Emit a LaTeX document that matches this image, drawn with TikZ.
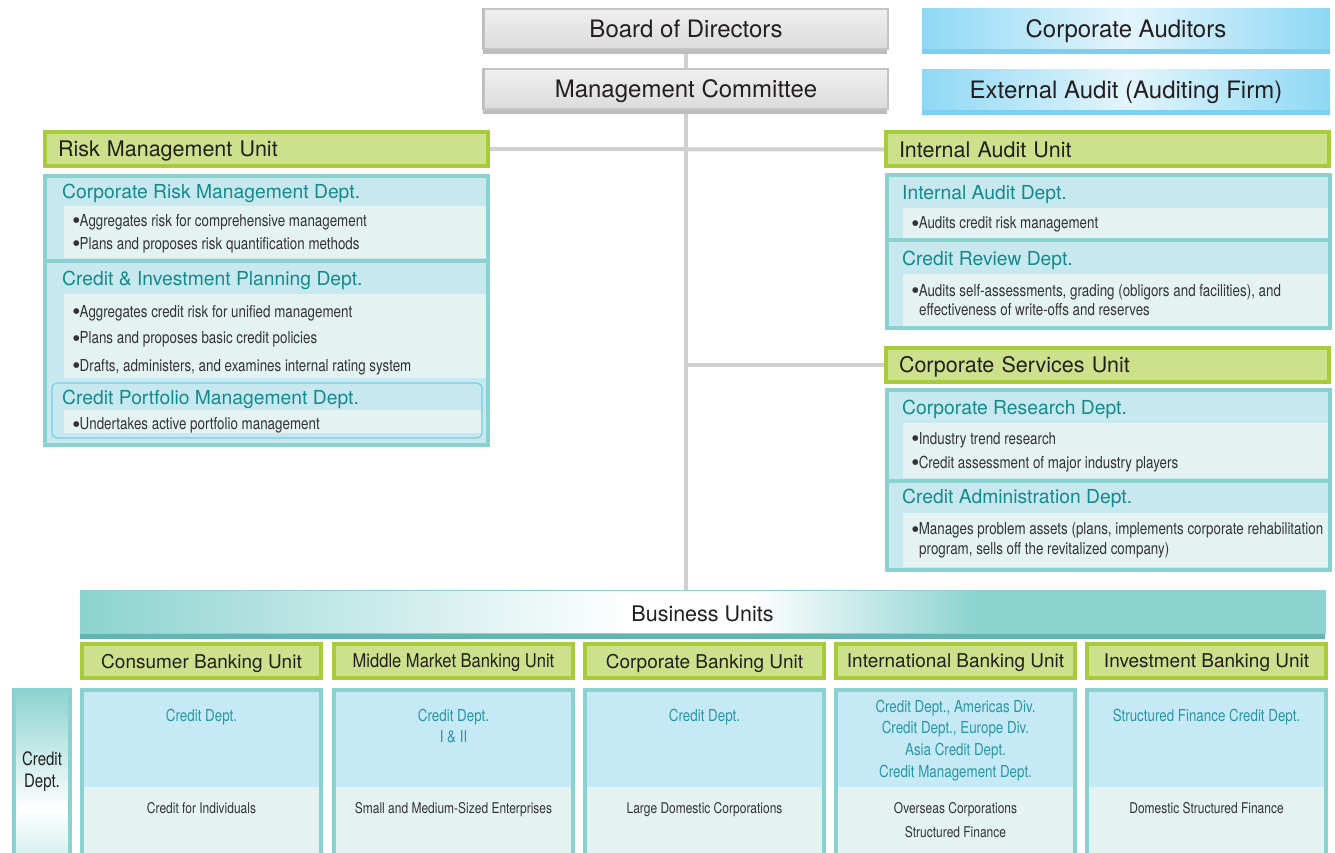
\documentclass[tikz,border=0pt]{standalone}
\usepackage{fontspec}
\setmainfont{TeX Gyre Heros}
\newfontfamily\condfont[FakeStretch=0.81]{TeX Gyre Heros}
\newfontfamily\semicond[FakeStretch=0.87]{TeX Gyre Heros}
\newfontfamily\bulfont{DejaVu Sans}
\newcommand\bul{\raisebox{3.2pt}{\bulfont\fontsize{7.5}{8}\selectfont ●}}

\definecolor{unitgreen}{HTML}{A8CB3B}
\definecolor{unitfill}{HTML}{CDE08B}
\definecolor{panelteal}{HTML}{89D2CF}
\definecolor{headfill}{HTML}{C7E8EE}
\definecolor{bulletfill}{HTML}{E4F3F1}
\definecolor{titleteal}{HTML}{138A8C}
\definecolor{colfill}{HTML}{C6E9F6}
\definecolor{coltext}{HTML}{2A96A4}
\definecolor{linegray}{HTML}{D0D0D0}
\definecolor{graybord}{HTML}{C4C4C4}
\definecolor{grayshadow}{HTML}{BDBDBD}
\definecolor{graytop}{HTML}{EFEFEF}
\definecolor{graybot}{HTML}{DCDCDC}
\definecolor{skyedge}{HTML}{8ED8F4}
\definecolor{skymid}{HTML}{E4F5FC}
\definecolor{skyshadow}{HTML}{7CCFEF}
\definecolor{bizteal}{HTML}{8CD3D0}
\definecolor{bizlight}{HTML}{D2EEEC}
\definecolor{bizdark}{HTML}{63B5B4}
\definecolor{portborder}{HTML}{74CFEF}
\definecolor{textdark}{HTML}{231F20}
\definecolor{bullettext}{HTML}{333333}

\pgfdeclarehorizontalshading{bizshade}{100bp}{color(0bp)=(bizteal); color(25bp)=(bizteal); color(47bp)=(white); color(52bp)=(white); color(61bp)=(bizteal); color(100bp)=(bizteal)}
\pgfdeclareverticalshading{creditshade}{100bp}{color(0bp)=(bizlight); color(25bp)=(bizlight); color(40bp)=(white); color(75bp)=(bizteal); color(100bp)=(bizteal)}

\begin{document}
\begin{tikzpicture}[x=1pt,y=-1pt,
	topbox/.style={minimum width=404,minimum height=40,inner sep=0pt,text depth=0pt,text=textdark,font=\fontsize{24}{28}\selectfont},
	graybox/.style={topbox,top color=graytop,bottom color=graybot,draw=graybord,line width=1.5},
	skybox/.style={topbox,minimum width=408,left color=skyedge,right color=skyedge,middle color=skymid},
	unitbox/.style={draw=unitgreen,line width=4,fill=unitfill,text=textdark,font=\fontsize{21.5}{24}\selectfont,minimum height=34,inner xsep=13,text depth=0pt,text width=417,align=left},
	bizunit/.style={draw=unitgreen,line width=4,fill=unitfill,text=textdark,font=\fontsize{19}{22}\selectfont,minimum height=34,minimum width=239,inner sep=0pt,text depth=0pt},
	bizbar/.style={shade,shading=bizshade,draw=bizteal,line width=1,minimum width=1245,minimum height=43,inner sep=0pt,text height=20.5pt,text depth=0pt,text=textdark,font=\fontsize{21.5}{24}\selectfont},
	panel/.style={draw=panelteal,line width=4,fill=headfill},
	deptitle/.style={anchor=base west,inner sep=0pt,text=titleteal,font=\fontsize{19.3}{22}\selectfont},
	bullet/.style={anchor=base west,inner sep=0pt,text=bullettext,font=\condfont\fontsize{16.5}{20}\selectfont},
	coltitle/.style={anchor=base,inner sep=0pt,text=coltext,font=\condfont\fontsize{16.5}{20}\selectfont},
	colnote/.style={anchor=base,inner sep=0pt,text=bullettext,font=\condfont\fontsize{14.8}{18}\selectfont},
	conn/.style={draw=linegray,line width=4}]
	\useasboundingbox (0,0) rectangle (1335,853);

	% board and auditors
	\node[graybox] (board) at (686,29) {Board of Directors};
	\node[graybox] (mgmt) at (686,89) {Management Committee};
	\node[skybox] (aud) at (1126,29) {Corporate Auditors};
	\node[skybox] (ext) at (1126,90) {External Audit (Auditing Firm)};

	% units
	\node[unitbox] (rmu) at (266.5,149) {Risk Management Unit};
	\node[unitbox] (iau) at (1107.5,149.5) {Internal Audit Unit};
	\node[unitbox] (csu) at (1107.5,364.5) {Corporate Services Unit};
	\node[bizbar] (biz) at (702.5,611.5) {Business Units};

	% connectors
	\draw[conn] (board.south) -- (mgmt.north);
	\draw[conn] (mgmt.south) -- (mgmt.south |- biz.north);
	\draw[conn] (rmu.east) -- (iau.west);
	\draw[conn] (csu.west) -- (csu.west -| mgmt.south);

	% shadows
	\fill[grayshadow] (board.south west) rectangle ++(404,4);
	\fill[grayshadow] (mgmt.south west) rectangle ++(404,4);
	\draw[grayshadow,line width=2] (board.south west) -- (board.north west);
	\draw[grayshadow,line width=2] (mgmt.south west) -- (mgmt.north west);
	\fill[skyshadow] (aud.south west) rectangle ++(408,5);
	\fill[skyshadow] (ext.south west) rectangle ++(408,5);
	\fill[bizdark] (biz.south west) rectangle ++(1245,5);

	% risk management
	\draw[panel] (45,176) rectangle (488,445);
	\fill[bulletfill] (64,206) rectangle (486,258);
	\fill[bulletfill] (64,294) rectangle (486,378);
	\draw[panelteal,line width=4] (45,261) -- (488,261);
	\fill[bulletfill] (64,410) rectangle (481,433);
	\draw[portborder,line width=1.2,rounded corners=5] (52,383) rectangle (482,438);
	\node[deptitle] (crm) at (62,198) {Corporate Risk Management Dept.};
	\node[bullet] (crm1) at (73,226) {\bul Aggregates risk for comprehensive management};
	\node[bullet] (crm2) at (73,249) {\bul Plans and proposes risk quantification methods};
	\node[deptitle] (cip) at (62,285) {Credit \& Investment Planning Dept.};
	\node[bullet] (cip1) at (73,317) {\bul Aggregates credit risk for unified management};
	\node[bullet] (cip2) at (73,343.5) {\bul Plans and proposes basic credit policies};
	\node[bullet] (cip3) at (73,371) {\bul Drafts, administers, and examines internal rating system};
	\node[deptitle] (cpm) at (62,404) {Credit Portfolio Management Dept.};
	\node[bullet] (cpm1) at (73,429.5) {\bul Undertakes active portfolio management};

	% internal audit
	\draw[panel] (887,175) rectangle (1330,328);
	\fill[bulletfill] (903,208) rectangle (1328,238);
	\draw[panelteal,line width=4] (887,240) -- (1330,240);
	\fill[bulletfill] (903,274) rectangle (1328,326);
	\node[deptitle] (iad) at (902,200) {Internal Audit Dept.};
	\node[bullet] (iad1) at (912,229) {\bul Audits credit risk management};
	\node[deptitle] (crd) at (902,265) {Credit Review Dept.};
	\node[bullet] (crd1) at (912,296) {\bul Audits self-assessments, grading (obligors and facilities), and};
	\node[bullet] (crd2) at (919,315.5) {effectiveness of write-offs and reserves};

	% corporate services
	\draw[panel] (887,390) rectangle (1330,570);
	\fill[bulletfill] (903,423) rectangle (1328,478);
	\draw[panelteal,line width=4] (887,481) -- (1330,481);
	\fill[bulletfill] (903,513) rectangle (1328,567);
	\node[deptitle] (crs) at (902,414) {Corporate Research Dept.};
	\node[bullet] (crs1) at (912,444) {\bul Industry trend research};
	\node[bullet] (crs2) at (912,468) {\bul Credit assessment of major industry players};
	\node[deptitle] (cad) at (902,503) {Credit Administration Dept.};
	\node[bullet] (cad1) at (912,534.5) {\bul Manages problem assets (plans, implements corporate rehabilitation};
	\node[bullet] (cad2) at (919,554) {program, sells off the revitalized company)};

	% business units
	\node[bizunit] (cbu) at (201.5,661) {Consumer Banking Unit};
	\node[bizunit,font=\semicond\fontsize{19}{22}\selectfont] (mbu) at (453.5,661) {Middle Market Banking Unit};
	\node[bizunit] (kbu) at (704.5,661) {Corporate Banking Unit};
	\node[bizunit] (ibu) at (955.5,661) {International Banking Unit};
	\node[bizunit] (vbu) at (1206.5,661) {Investment Banking Unit};

	\foreach \cx in {201.5,453.5,704.5,955.5,1206.5} {
		\fill[colfill] (\cx-119.5,690) rectangle (\cx+119.5,787);
		\fill[bulletfill] (\cx-119.5,787) rectangle (\cx+119.5,860);
		\draw[panelteal,line width=4] (\cx-119.5,690) rectangle (\cx+119.5,860);
	}
	\shadedraw[shading=creditshade,draw=panelteal,line width=4] (14,690) rectangle (70,860);
	\node[anchor=base,inner sep=0pt,text=textdark,font=\condfont\fontsize{18.5}{22}\selectfont] (cd1) at (42,765) {Credit};
	\node[anchor=base,inner sep=0pt,text=textdark,font=\condfont\fontsize{18.5}{22}\selectfont] (cd2) at (42,787) {Dept.};

	\node[coltitle] (cons1) at (201.5,721) {Credit Dept.};
	\node[colnote] (cons2) at (201.5,813) {Credit for Individuals};
	\node[coltitle] (mid1) at (453.5,721) {Credit Dept.};
	\node[coltitle] (mid2) at (453.5,742) {I \& II};
	\node[colnote] (mid3) at (453.5,813) {Small and Medium-Sized Enterprises};
	\node[coltitle] (corp1) at (704.5,721) {Credit Dept.};
	\node[colnote] (corp2) at (704.5,813) {Large Domestic Corporations};
	\foreach \txt [count=\i] in {{Credit Dept., Americas Div.},{Credit Dept., Europe Div.},{Asia Credit Dept.},{Credit Management Dept.}}
		\node[coltitle] (intl\i) at (955.5,690.3+21.7*\i) {\txt};
	\node[colnote] (intl5) at (955.5,813) {Overseas Corporations};
	\node[colnote] (intl6) at (955.5,837) {Structured Finance};
	\node[coltitle] (inv1) at (1206.5,721) {Structured Finance Credit Dept.};
	\node[colnote] (inv2) at (1206.5,813) {Domestic Structured Finance};
\end{tikzpicture}
\end{document}
